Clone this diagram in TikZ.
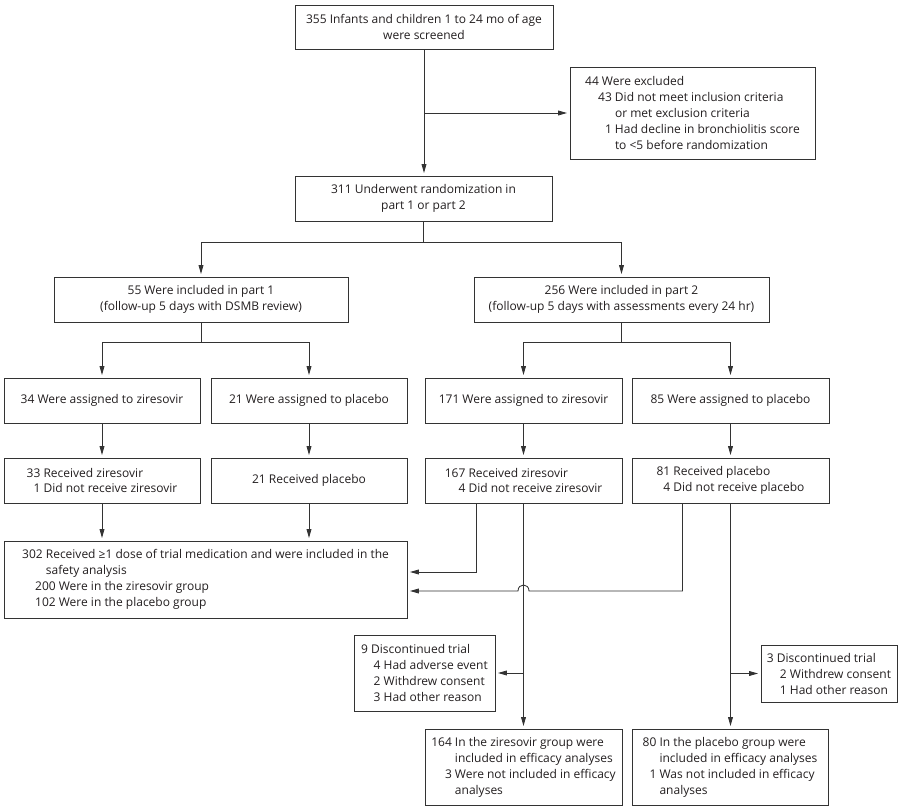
\documentclass[tikz,border=0pt]{standalone}
\usepackage{fontspec}
\setmainfont{Open Sans}
\usetikzlibrary{arrows.meta}
\definecolor{txtcol}{HTML}{231F20}
\definecolor{lncol}{HTML}{333333}
\begin{document}
\begin{tikzpicture}[x=1pt,y=-1pt,
  box/.style={draw=lncol, line width=0.85pt, inner sep=0pt, text=txtcol, font=\fontsize{12}{16}\selectfont},
  lbox/.style={box, align=left},
  cbox/.style={box, align=center},
  arr/.style={draw=lncol, line width=0.85pt, shorten >=2.5pt, -{Triangle[length=9pt,width=4.8pt]}}]
\fill[white] (0,0) rectangle (903,810);
\useasboundingbox (0,0) rectangle (903,810);

\node[cbox, minimum width=258pt, minimum height=44pt] (top) at (424,27)
  {355 Infants and children 1 to 24 mo of age\\were screened};
\node[lbox, minimum width=245pt, minimum height=92pt] (excl) at (692.5,113)
  {44 Were excluded\\
   \hspace*{13pt}43 Did not meet inclusion criteria\\
   \hspace*{13pt}\hphantom{43\ }or met exclusion criteria\\
   \hspace*{13pt}\hphantom{4}1 Had decline in bronchiolitis score\\
   \hspace*{13pt}\hphantom{43\ }to <5 before randomization};
\node[cbox, minimum width=257pt, minimum height=45pt] (rand) at (423.5,198.5)
  {311 Underwent randomization in\\part 1 or part 2};
\node[cbox, minimum width=294pt, minimum height=45pt] (p1) at (201,299.5)
  {55 Were included in part 1\\(follow-up 5 days with DSMB review)};
\node[cbox, minimum width=295pt, minimum height=45pt] (p2) at (621.5,299.5)
  {256 Were included in part 2\\(follow-up 5 days with assessments every 24 hr)};

\node[cbox, minimum width=196pt, minimum height=45pt] (a1) at (102,400.5) {34 Were assigned to ziresovir};
\node[cbox, minimum width=196pt, minimum height=45pt] (b1) at (309,400.5) {21 Were assigned to placebo};
\node[cbox, minimum width=197pt, minimum height=45pt] (c1) at (523.5,400.5) {171 Were assigned to ziresovir};
\node[cbox, minimum width=197pt, minimum height=45pt] (d1) at (730.5,400.5) {85 Were assigned to placebo};

\node[lbox, minimum width=196pt, minimum height=45pt] (a2) at (102,480.5)
  {33 Received ziresovir\\\hphantom{3}1 Did not receive ziresovir};
\node[cbox, minimum width=196pt, minimum height=45pt] (b2) at (309,480.5) {21 Received placebo};
\node[lbox, minimum width=197pt, minimum height=45pt] (c2) at (523.5,480.5)
  {167 Received ziresovir\\\hphantom{16}4 Did not receive ziresovir};
\node[lbox, minimum width=197pt, minimum height=45pt] (d2) at (730.5,480.5)
  {81 Received placebo\\\hphantom{8}4 Did not receive placebo};

\node[lbox, minimum width=403pt, minimum height=77pt] (safe) at (205.5,579.5)
  {302 Received ≥1 dose of trial medication and were included in the\\
   \hphantom{302\ }safety analysis\\
   \hspace*{13pt}200 Were in the ziresovir group\\
   \hspace*{13pt}102 Were in the placebo group};

\node[lbox, minimum width=141pt, minimum height=76pt] (dis1) at (424.5,673)
  {9 Discontinued trial\\
   \hspace*{12.5pt}4 Had adverse event\\
   \hspace*{12.5pt}2 Withdrew consent\\
   \hspace*{12.5pt}3 Had other reason};
\node[lbox, minimum width=136pt, minimum height=57pt] (dis2) at (829,673.5)
  {3 Discontinued trial\\
   \hspace*{13pt}2 Withdrew consent\\
   \hspace*{13pt}1 Had other reason};

\node[lbox, minimum width=197pt, minimum height=76pt] (eff1) at (523.5,767)
  {164 In the ziresovir group were\\
   \hphantom{164\ }included in efficacy analyses\\
   \hphantom{16}3 Were not included in efficacy\\
   \hphantom{164\ }analyses};
\node[lbox, minimum width=196pt, minimum height=76pt] (eff2) at (730,767)
  {80 In the placebo group were\\
   \hphantom{80\ }included in efficacy analyses\\
   \hphantom{8}1 Was not included in efficacy\\
   \hphantom{80\ }analyses};

% connectors
\draw[arr] (top.south) -- (top.south |- rand.north);
\draw[arr] (excl.west -| top.south) -- (excl.west);
\draw[arr] (rand.south) -- ++(0,21) -| (p1.north);
\draw[arr] (rand.south) -- ++(0,21) -| (p2.north);
\draw[arr] (p1.south) -- ++(0,20) -| (a1.north);
\draw[arr] (p1.south) -- ++(0,20) -| (b1.north);
\draw[arr] (p2.south) -- ++(0,20) -| (c1.north);
\draw[arr] (p2.south) -- ++(0,20) -| (d1.north);
\draw[arr] (a1) -- (a2);
\draw[arr] (b1) -- (b2);
\draw[arr] (c1) -- (c2);
\draw[arr] (d1) -- (d2);
\draw[arr] (a2.south) -- (a2.south |- safe.north);
\draw[arr] (b2.south) -- (b2.south |- safe.north);
\draw[arr] ([xshift=-47.5pt]c2.south) |- ([yshift=7.5pt]safe.east);
\coordinate (hop) at (c2.south |- 0,591);
\draw[arr] ([xshift=-48pt]d2.south) |- ([xshift=5.5pt]hop)
  .. controls +(0,-8) and +(0,-8) .. ([xshift=-5.5pt]hop)
  -- ([yshift=-11.5pt]safe.east);
\draw[arr] (c2) -- (eff1);
\draw[arr] (dis1.east -| c2.south) -- (dis1.east);
\draw[arr] (d2.south) -- (d2.south |- eff2.north);
\draw[arr] (dis2.west -| d2.south) -- (dis2.west);
\end{tikzpicture}
\end{document}
